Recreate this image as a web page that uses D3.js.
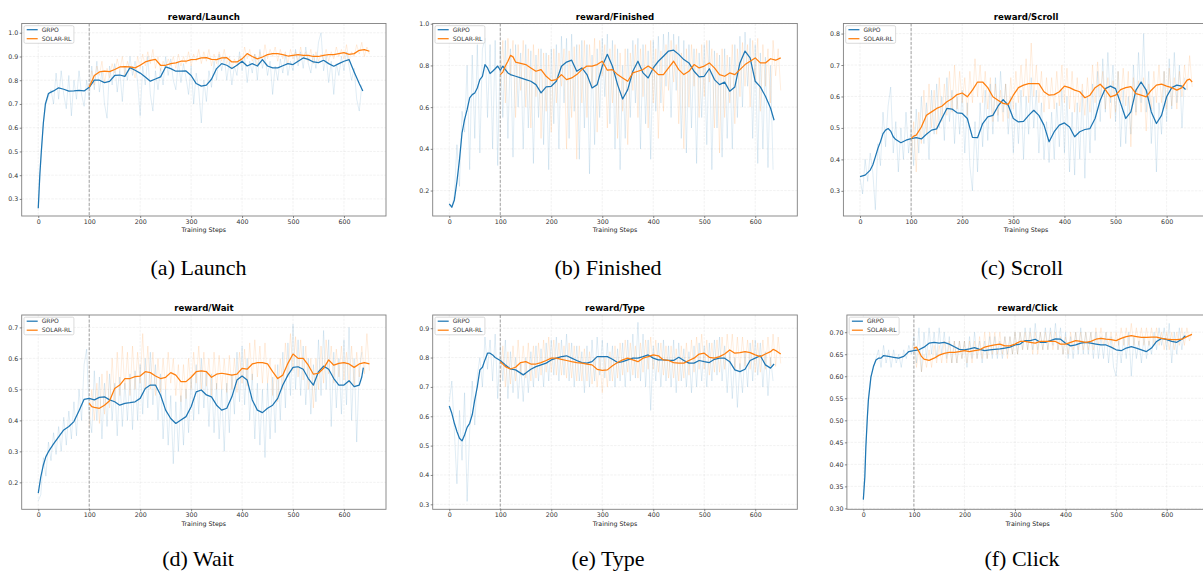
<!DOCTYPE html>
<html><head><meta charset="utf-8">
<script src="https://cdn.jsdelivr.net/npm/d3@7"></script>
<style>html,body{margin:0;padding:0;background:#fff;overflow:hidden}</style>
</head><body><svg id="c" width="1203" height="572"></svg>
<script>
// ---------------- DATA ----------------
const seriesNames = ["GRPO", "SOLAR-RL"];
const xTickValues = [0, 100, 200, 300, 400, 500, 600];
const rawStep = 5;          // raw curves are read every 5 training steps
const grpoRawStart = 0;
const solarRawStart = 100;
const switchStep = 100;

// Launch
const launchGrpoSmooth = [[0,0.261],[3,0.40],[6,0.50],[10,0.62],[14,0.70],[20,0.744],[25,0.75],[30,0.755],[40,0.768],[50,0.762],[60,0.754],[70,0.755],[80,0.757],[90,0.755],[100,0.77],[110,0.80],[120,0.80],[130,0.79],[140,0.795],[150,0.82],[160,0.822],[170,0.816],[180,0.853],[190,0.842],[200,0.83],[210,0.814],[220,0.796],[230,0.805],[240,0.814],[250,0.856],[260,0.849],[270,0.838],[280,0.838],[290,0.839],[300,0.82],[310,0.786],[320,0.775],[330,0.779],[340,0.804],[350,0.849],[360,0.87],[370,0.863],[380,0.849],[390,0.863],[400,0.88],[410,0.86],[420,0.87],[430,0.86],[440,0.887],[450,0.86],[460,0.852],[470,0.852],[480,0.861],[490,0.87],[500,0.866],[510,0.88],[520,0.894],[530,0.888],[540,0.877],[550,0.874],[560,0.884],[570,0.87],[580,0.859],[590,0.87],[600,0.88],[610,0.887],[620,0.835],[630,0.786],[637,0.755]];
const launchSolarSmooth = [[100,0.77],[110,0.82],[120,0.835],[130,0.838],[140,0.836],[150,0.845],[160,0.856],[170,0.857],[180,0.856],[190,0.852],[200,0.863],[210,0.877],[220,0.884],[230,0.888],[240,0.863],[250,0.863],[260,0.87],[270,0.873],[280,0.88],[290,0.88],[300,0.887],[310,0.888],[320,0.894],[330,0.895],[340,0.888],[350,0.887],[360,0.894],[370,0.895],[380,0.877],[390,0.877],[400,0.89],[410,0.912],[420,0.90],[430,0.89],[440,0.898],[450,0.908],[460,0.912],[470,0.912],[480,0.908],[490,0.902],[500,0.905],[510,0.908],[520,0.905],[530,0.905],[540,0.90],[550,0.90],[560,0.905],[570,0.908],[580,0.908],[590,0.912],[600,0.916],[610,0.909],[620,0.912],[630,0.926],[640,0.929],[650,0.922]];
const launchGrpoRaw = [0.26,0.45,0.62,0.70,0.73,0.76,0.70,0.83,0.72,0.84,0.74,0.68,0.82,0.65,0.80,0.72,0.84,0.74,0.69,0.80,0.72,0.86,0.76,0.88,0.75,0.84,0.70,0.64,0.86,0.78,0.87,0.75,0.84,0.71,0.86,0.80,0.90,0.82,0.88,0.79,0.65,0.86,0.78,0.90,0.74,0.67,0.84,0.76,0.85,0.78,0.90,0.82,0.89,0.80,0.76,0.88,0.79,0.87,0.81,0.74,0.86,0.70,0.83,0.76,0.62,0.80,0.71,0.84,0.77,0.88,0.80,0.91,0.84,0.90,0.80,0.88,0.78,0.86,0.82,0.92,0.84,0.90,0.79,0.88,0.83,0.91,0.80,0.93,0.85,0.90,0.82,0.88,0.74,0.86,0.80,0.89,0.83,0.91,0.82,0.88,0.84,0.93,0.86,0.92,0.85,0.94,0.87,0.83,0.91,0.85,0.96,1.00,0.84,0.90,0.79,0.88,0.74,0.87,0.82,0.90,0.84,0.92,0.86,0.80,0.85,0.72,0.67,0.78];
const launchSolarRaw = [0.76,0.84,0.78,0.86,0.82,0.88,0.79,0.85,0.81,0.87,0.83,0.89,0.84,0.90,0.82,0.88,0.84,0.86,0.81,0.90,0.85,0.91,0.86,0.92,0.87,0.93,0.85,0.90,0.84,0.88,0.85,0.89,0.86,0.90,0.85,0.91,0.86,0.90,0.87,0.92,0.86,0.91,0.88,0.93,0.87,0.92,0.88,0.93,0.86,0.91,0.87,0.92,0.88,0.93,0.87,0.90,0.85,0.89,0.86,0.90,0.87,0.94,0.89,0.93,0.88,0.91,0.86,0.92,0.88,0.95,0.89,0.93,0.90,0.94,0.88,0.93,0.89,0.92,0.87,0.93,0.89,0.92,0.88,0.94,0.89,0.92,0.88,0.93,0.87,0.92,0.88,0.91,0.89,0.93,0.88,0.92,0.89,0.94,0.90,0.93,0.89,0.95,0.88,0.92,0.90,0.95,0.91,0.96,0.90,0.94,0.91];
const launchYTicks = [0.3,0.4,0.5,0.6,0.7,0.8,0.9,1.0];

// Finished
const finishedGrpoSmooth = [[0,0.136],[5,0.12],[10,0.155],[15,0.243],[20,0.347],[25,0.476],[30,0.54],[35,0.588],[40,0.644],[45,0.66],[50,0.668],[55,0.692],[60,0.732],[65,0.748],[70,0.804],[75,0.788],[80,0.761],[85,0.772],[90,0.784],[95,0.797],[100,0.777],[105,0.797],[110,0.78],[115,0.764],[120,0.756],[130,0.748],[140,0.74],[150,0.732],[160,0.724],[170,0.708],[180,0.668],[190,0.697],[200,0.70],[210,0.724],[220,0.796],[230,0.816],[240,0.825],[250,0.772],[260,0.788],[270,0.756],[280,0.692],[290,0.708],[300,0.796],[310,0.853],[320,0.796],[330,0.708],[340,0.639],[350,0.684],[360,0.772],[370,0.82],[380,0.764],[390,0.74],[400,0.788],[410,0.82],[420,0.844],[430,0.869],[440,0.873],[450,0.853],[460,0.828],[470,0.812],[480,0.772],[490,0.745],[500,0.748],[510,0.784],[520,0.732],[530,0.708],[540,0.72],[550,0.676],[560,0.697],[570,0.812],[580,0.869],[590,0.836],[600,0.724],[610,0.697],[620,0.652],[630,0.596],[637,0.537]];
const finishedSolarSmooth = [[100,0.756],[105,0.768],[110,0.797],[115,0.82],[120,0.848],[125,0.841],[130,0.816],[140,0.81],[150,0.804],[160,0.788],[170,0.772],[180,0.78],[190,0.748],[200,0.727],[210,0.732],[220,0.756],[230,0.732],[240,0.74],[250,0.756],[260,0.78],[270,0.797],[280,0.797],[290,0.804],[300,0.82],[310,0.777],[320,0.78],[330,0.756],[340,0.74],[350,0.724],[360,0.764],[370,0.772],[380,0.78],[390,0.797],[400,0.78],[410,0.756],[420,0.756],[430,0.788],[440,0.82],[450,0.78],[460,0.756],[470,0.772],[480,0.804],[490,0.788],[500,0.797],[510,0.812],[520,0.788],[530,0.756],[540,0.748],[550,0.764],[560,0.756],[570,0.78],[580,0.804],[590,0.82],[600,0.836],[610,0.812],[620,0.812],[630,0.832],[640,0.825],[650,0.836]];
const finishedGrpoRaw = [0.13,0.12,0.18,0.42,0.22,0.58,0.48,0.80,0.30,0.85,0.45,0.90,0.38,0.88,0.93,0.55,0.90,0.40,0.92,0.32,0.88,0.55,0.92,0.45,0.88,0.36,0.90,0.60,0.86,0.40,0.90,0.50,0.87,0.33,0.85,0.55,0.88,0.42,0.86,0.30,0.88,0.52,0.90,0.40,0.94,0.62,0.93,0.45,0.95,0.58,0.90,0.35,0.92,0.50,0.90,0.28,0.85,0.42,0.88,0.55,0.93,0.65,0.95,0.52,0.92,0.40,0.88,0.30,0.80,0.45,0.88,0.55,0.92,0.62,0.93,0.40,0.90,0.52,0.87,0.35,0.92,0.58,0.94,0.62,0.95,0.70,0.96,0.55,0.95,0.68,0.94,0.45,0.92,0.38,0.90,0.50,0.88,0.33,0.86,0.55,0.90,0.42,0.92,0.30,0.87,0.50,0.85,0.36,0.88,0.45,0.84,0.40,0.90,0.55,0.94,0.60,0.96,0.70,0.93,0.45,0.90,0.33,0.86,0.40,0.84,0.31,0.80,0.30];
const finishedSolarRaw = [0.70,0.92,0.62,0.93,0.75,0.92,0.55,0.90,0.68,0.92,0.60,0.88,0.50,0.90,0.65,0.88,0.45,0.86,0.58,0.85,0.48,0.88,0.62,0.86,0.70,0.88,0.40,0.87,0.55,0.89,0.35,0.90,0.62,0.92,0.55,0.90,0.70,0.93,0.48,0.92,0.75,0.90,0.50,0.88,0.62,0.90,0.45,0.86,0.58,0.88,0.42,0.86,0.68,0.90,0.55,0.88,0.65,0.90,0.50,0.92,0.62,0.88,0.45,0.87,0.58,0.90,0.68,0.92,0.72,0.90,0.52,0.86,0.40,0.88,0.60,0.90,0.70,0.88,0.55,0.90,0.65,0.92,0.72,0.88,0.50,0.86,0.38,0.88,0.55,0.85,0.62,0.90,0.52,0.88,0.65,0.91,0.70,0.90,0.60,0.92,0.72,0.93,0.58,0.90,0.70,0.88,0.62,0.92,0.75,0.88,0.68];
const finishedYTicks = [0.2,0.4,0.6,0.8,1.0];

// Scroll
const scrollGrpoSmooth = [[0,0.345],[10,0.35],[20,0.366],[25,0.382],[30,0.408],[35,0.435],[40,0.456],[45,0.482],[50,0.493],[55,0.498],[60,0.49],[65,0.472],[70,0.463],[80,0.453],[90,0.461],[100,0.466],[110,0.469],[120,0.465],[130,0.48],[140,0.493],[150,0.497],[160,0.53],[170,0.562],[180,0.56],[190,0.548],[200,0.546],[210,0.53],[220,0.47],[230,0.469],[240,0.514],[250,0.535],[260,0.54],[270,0.569],[280,0.59],[290,0.572],[300,0.53],[310,0.519],[320,0.521],[330,0.54],[340,0.556],[350,0.54],[360,0.509],[370,0.456],[380,0.488],[390,0.509],[400,0.516],[410,0.503],[420,0.472],[430,0.488],[440,0.495],[450,0.498],[460,0.53],[470,0.588],[480,0.625],[490,0.633],[500,0.625],[510,0.578],[520,0.53],[530,0.551],[540,0.62],[550,0.646],[560,0.62],[570,0.551],[580,0.514],[590,0.54],[600,0.599],[610,0.628],[620,0.636],[630,0.633],[637,0.622]];
const scrollSolarSmooth = [[100,0.466],[105,0.474],[110,0.477],[120,0.503],[130,0.54],[140,0.551],[150,0.562],[160,0.569],[170,0.583],[180,0.593],[190,0.606],[200,0.611],[210,0.599],[220,0.62],[230,0.646],[240,0.646],[250,0.628],[260,0.599],[270,0.588],[280,0.578],[290,0.575],[300,0.604],[310,0.628],[320,0.636],[330,0.641],[340,0.641],[350,0.641],[360,0.615],[370,0.604],[380,0.606],[390,0.615],[400,0.633],[410,0.628],[420,0.62],[430,0.615],[440,0.596],[450,0.604],[460,0.628],[470,0.639],[480,0.622],[490,0.599],[500,0.604],[510,0.622],[520,0.628],[530,0.631],[540,0.609],[550,0.604],[560,0.599],[570,0.62],[580,0.636],[590,0.639],[600,0.633],[610,0.628],[620,0.62],[630,0.628],[640,0.652],[645,0.655],[650,0.646]];
const scrollGrpoRaw = [0.34,0.29,0.40,0.33,0.42,0.36,0.24,0.45,0.38,0.55,0.44,0.57,0.63,0.42,0.52,0.36,0.50,0.40,0.55,0.42,0.50,0.38,0.56,0.42,0.60,0.45,0.58,0.40,0.62,0.48,0.64,0.50,0.60,0.46,0.66,0.52,0.62,0.45,0.60,0.48,0.62,0.42,0.58,0.38,0.30,0.52,0.36,0.58,0.44,0.62,0.46,0.64,0.48,0.66,0.52,0.68,0.55,0.64,0.48,0.60,0.42,0.58,0.45,0.62,0.40,0.60,0.48,0.66,0.50,0.62,0.42,0.58,0.40,0.52,0.39,0.55,0.40,0.58,0.44,0.62,0.42,0.60,0.36,0.55,0.35,0.58,0.40,0.62,0.34,0.60,0.42,0.64,0.46,0.68,0.52,0.72,0.55,0.74,0.58,0.70,0.52,0.68,0.44,0.62,0.45,0.60,0.48,0.70,0.55,0.74,0.58,0.80,0.55,0.68,0.45,0.60,0.36,0.58,0.48,0.68,0.52,0.72,0.56,0.74,0.58,0.70,0.50,0.66];
const scrollSolarRaw = [0.40,0.52,0.36,0.55,0.45,0.62,0.48,0.64,0.50,0.62,0.48,0.66,0.52,0.64,0.54,0.68,0.55,0.70,0.56,0.68,0.58,0.66,0.54,0.68,0.58,0.72,0.60,0.70,0.58,0.68,0.56,0.66,0.52,0.64,0.54,0.62,0.52,0.64,0.53,0.66,0.56,0.68,0.58,0.70,0.60,0.72,0.58,0.77,0.60,0.70,0.58,0.68,0.55,0.66,0.56,0.66,0.56,0.68,0.57,0.70,0.58,0.69,0.56,0.68,0.55,0.66,0.55,0.64,0.54,0.66,0.55,0.70,0.58,0.71,0.60,0.68,0.56,0.66,0.53,0.65,0.55,0.68,0.58,0.69,0.57,0.68,0.44,0.66,0.54,0.65,0.55,0.66,0.49,0.64,0.56,0.68,0.58,0.70,0.58,0.68,0.56,0.69,0.57,0.66,0.56,0.68,0.60,0.70,0.62,0.73,0.63];
const scrollYTicks = [0.3,0.4,0.5,0.6,0.7,0.8];

// Wait
const waitGrpoSmooth = [[0,0.165],[5,0.218],[10,0.256],[15,0.283],[20,0.299],[30,0.324],[40,0.347],[50,0.369],[60,0.38],[70,0.396],[80,0.431],[90,0.468],[100,0.471],[110,0.466],[120,0.474],[130,0.476],[140,0.466],[150,0.46],[160,0.449],[170,0.455],[180,0.457],[190,0.46],[200,0.471],[210,0.503],[220,0.514],[230,0.514],[240,0.482],[250,0.433],[260,0.406],[270,0.39],[280,0.401],[290,0.412],[300,0.444],[310,0.492],[320,0.498],[330,0.482],[340,0.476],[350,0.449],[360,0.433],[370,0.439],[380,0.476],[390,0.53],[400,0.543],[410,0.53],[420,0.466],[430,0.433],[440,0.425],[450,0.439],[460,0.449],[470,0.471],[480,0.514],[490,0.546],[500,0.571],[510,0.573],[520,0.565],[530,0.535],[540,0.514],[550,0.557],[560,0.575],[570,0.565],[580,0.535],[590,0.514],[600,0.514],[610,0.528],[620,0.509],[630,0.514],[635,0.54],[638,0.57]];
const waitSolarSmooth = [[100,0.455],[105,0.444],[110,0.442],[120,0.439],[130,0.449],[140,0.463],[150,0.503],[160,0.514],[170,0.535],[180,0.535],[190,0.541],[200,0.543],[210,0.557],[220,0.554],[230,0.543],[240,0.535],[250,0.539],[260,0.554],[270,0.546],[280,0.525],[290,0.525],[300,0.539],[310,0.557],[320,0.56],[330,0.557],[340,0.539],[350,0.549],[360,0.552],[370,0.549],[380,0.546],[390,0.549],[400,0.568],[410,0.565],[420,0.582],[430,0.586],[440,0.586],[450,0.582],[460,0.557],[470,0.535],[480,0.546],[490,0.584],[500,0.614],[510,0.60],[520,0.60],[530,0.578],[540,0.549],[550,0.552],[560,0.568],[570,0.595],[580,0.578],[590,0.584],[600,0.586],[610,0.582],[620,0.571],[630,0.582],[640,0.586],[650,0.582]];
const waitGrpoRaw = [0.14,0.16,0.28,0.22,0.33,0.27,0.36,0.29,0.38,0.30,0.41,0.32,0.43,0.34,0.46,0.35,0.50,0.40,0.58,0.63,0.42,0.36,0.56,0.40,0.54,0.34,0.52,0.38,0.55,0.40,0.52,0.35,0.54,0.38,0.52,0.40,0.55,0.37,0.56,0.40,0.58,0.42,0.60,0.44,0.62,0.45,0.58,0.40,0.55,0.34,0.50,0.32,0.48,0.26,0.46,0.30,0.48,0.32,0.50,0.36,0.54,0.40,0.58,0.42,0.60,0.44,0.56,0.38,0.55,0.36,0.52,0.34,0.50,0.30,0.52,0.36,0.55,0.42,0.62,0.46,0.64,0.45,0.60,0.40,0.55,0.34,0.52,0.32,0.50,0.28,0.52,0.34,0.54,0.36,0.58,0.40,0.62,0.44,0.65,0.48,0.71,0.50,0.66,0.48,0.64,0.45,0.60,0.42,0.58,0.46,0.66,0.48,0.69,0.50,0.66,0.38,0.62,0.44,0.60,0.42,0.66,0.45,0.70,0.40,0.60,0.33,0.56,0.62];
const waitSolarRaw = [0.38,0.50,0.40,0.52,0.39,0.55,0.42,0.56,0.44,0.60,0.46,0.62,0.48,0.64,0.50,0.62,0.48,0.64,0.50,0.62,0.52,0.68,0.50,0.64,0.50,0.62,0.48,0.60,0.49,0.60,0.50,0.62,0.52,0.60,0.48,0.58,0.46,0.58,0.47,0.60,0.50,0.62,0.52,0.64,0.50,0.62,0.51,0.60,0.48,0.62,0.50,0.61,0.50,0.60,0.49,0.61,0.50,0.60,0.49,0.62,0.52,0.63,0.51,0.65,0.53,0.66,0.54,0.64,0.52,0.65,0.52,0.60,0.48,0.58,0.46,0.60,0.50,0.65,0.54,0.68,0.56,0.67,0.54,0.66,0.53,0.64,0.50,0.60,0.44,0.60,0.50,0.64,0.52,0.66,0.55,0.64,0.52,0.63,0.54,0.64,0.53,0.62,0.52,0.64,0.51,0.62,0.54,0.64,0.55,0.68,0.56];
const waitYTicks = [0.2,0.3,0.4,0.5,0.6,0.7];

// Type
const typeGrpoSmooth = [[0,0.635],[5,0.61],[10,0.576],[15,0.548],[20,0.525],[25,0.516],[30,0.536],[35,0.562],[40,0.576],[45,0.605],[50,0.656],[55,0.701],[60,0.758],[65,0.767],[70,0.792],[75,0.815],[80,0.815],[85,0.809],[90,0.80],[100,0.79],[110,0.775],[120,0.761],[130,0.758],[140,0.747],[145,0.741],[150,0.747],[160,0.76],[170,0.769],[180,0.775],[190,0.781],[200,0.792],[210,0.798],[220,0.803],[230,0.806],[240,0.798],[250,0.79],[260,0.783],[270,0.781],[280,0.786],[290,0.803],[300,0.803],[310,0.803],[320,0.794],[330,0.783],[340,0.786],[350,0.792],[360,0.798],[370,0.798],[380,0.803],[390,0.809],[400,0.798],[410,0.792],[420,0.792],[430,0.79],[440,0.79],[450,0.801],[460,0.79],[470,0.781],[480,0.781],[490,0.79],[500,0.786],[510,0.783],[520,0.794],[530,0.798],[540,0.798],[550,0.786],[560,0.758],[570,0.752],[580,0.76],[590,0.79],[600,0.798],[610,0.806],[620,0.775],[630,0.764],[637,0.778]];
const typeSolarSmooth = [[100,0.786],[110,0.769],[120,0.761],[130,0.767],[140,0.783],[150,0.786],[160,0.778],[170,0.778],[180,0.783],[190,0.79],[200,0.798],[210,0.798],[220,0.794],[230,0.79],[240,0.786],[250,0.783],[260,0.781],[270,0.778],[280,0.775],[290,0.76],[300,0.756],[310,0.758],[320,0.772],[330,0.783],[340,0.792],[350,0.798],[360,0.792],[370,0.786],[380,0.798],[390,0.803],[400,0.809],[410,0.806],[420,0.792],[430,0.79],[440,0.783],[450,0.781],[460,0.781],[470,0.79],[480,0.798],[490,0.812],[500,0.815],[510,0.801],[520,0.798],[530,0.803],[540,0.812],[550,0.826],[560,0.815],[570,0.817],[580,0.82],[590,0.817],[600,0.809],[610,0.803],[620,0.812],[630,0.82],[635,0.828],[640,0.824],[650,0.812]];
const typeGrpoRaw = [0.65,0.72,0.55,0.37,0.62,0.45,0.68,0.31,0.55,0.72,0.57,0.74,0.80,0.70,0.87,0.76,0.86,0.72,0.88,0.66,0.84,0.72,0.86,0.66,0.82,0.68,0.80,0.66,0.78,0.65,0.80,0.68,0.82,0.70,0.84,0.72,0.83,0.70,0.85,0.72,0.86,0.74,0.87,0.72,0.86,0.74,0.88,0.72,0.85,0.70,0.84,0.72,0.82,0.68,0.84,0.70,0.86,0.72,0.87,0.74,0.86,0.73,0.85,0.72,0.84,0.70,0.83,0.72,0.85,0.70,0.86,0.72,0.88,0.73,0.92,0.72,0.88,0.70,0.86,0.62,0.84,0.72,0.85,0.70,0.86,0.72,0.84,0.70,0.86,0.68,0.85,0.72,0.83,0.70,0.82,0.68,0.84,0.70,0.85,0.72,0.84,0.70,0.85,0.72,0.86,0.74,0.87,0.72,0.84,0.68,0.82,0.66,0.80,0.63,0.78,0.68,0.82,0.70,0.85,0.72,0.86,0.74,0.85,0.70,0.82,0.67,0.80,0.72];
const typeSolarRaw = [0.72,0.84,0.70,0.82,0.71,0.84,0.72,0.86,0.74,0.84,0.73,0.85,0.72,0.84,0.73,0.85,0.74,0.86,0.75,0.87,0.75,0.86,0.74,0.85,0.74,0.84,0.73,0.85,0.73,0.84,0.72,0.84,0.72,0.83,0.72,0.82,0.71,0.80,0.70,0.80,0.68,0.80,0.70,0.82,0.72,0.84,0.73,0.85,0.74,0.86,0.75,0.85,0.74,0.84,0.73,0.85,0.75,0.86,0.76,0.87,0.76,0.86,0.75,0.85,0.74,0.84,0.73,0.84,0.73,0.83,0.72,0.84,0.73,0.85,0.74,0.86,0.75,0.87,0.76,0.88,0.76,0.86,0.74,0.85,0.75,0.86,0.75,0.87,0.76,0.88,0.78,0.88,0.76,0.87,0.76,0.87,0.77,0.86,0.76,0.86,0.75,0.85,0.75,0.86,0.76,0.87,0.77,0.88,0.77,0.87,0.78];
const typeYTicks = [0.3,0.4,0.5,0.6,0.7,0.8,0.9];

// Click
const clickGrpoSmooth = [[0,0.32],[3,0.372],[5,0.44],[8,0.508],[10,0.546],[13,0.577],[15,0.598],[20,0.622],[25,0.637],[30,0.641],[35,0.641],[40,0.647],[50,0.645],[60,0.643],[70,0.641],[80,0.645],[90,0.656],[100,0.658],[110,0.66],[120,0.666],[130,0.675],[140,0.677],[150,0.675],[160,0.677],[170,0.673],[180,0.667],[190,0.661],[200,0.66],[210,0.662],[220,0.665],[230,0.661],[240,0.658],[250,0.66],[260,0.661],[270,0.662],[280,0.664],[290,0.666],[300,0.671],[310,0.673],[320,0.681],[330,0.681],[340,0.684],[350,0.677],[360,0.677],[370,0.681],[380,0.685],[390,0.684],[400,0.675],[410,0.669],[420,0.671],[430,0.675],[440,0.677],[450,0.675],[460,0.673],[470,0.671],[480,0.671],[490,0.666],[500,0.66],[510,0.658],[520,0.664],[530,0.667],[540,0.664],[550,0.66],[560,0.656],[570,0.664],[580,0.679],[590,0.686],[600,0.683],[610,0.679],[620,0.677],[630,0.684],[637,0.692]];
const clickSolarSmooth = [[100,0.664],[105,0.666],[110,0.656],[115,0.645],[120,0.639],[130,0.636],[140,0.641],[150,0.648],[160,0.652],[170,0.654],[180,0.654],[190,0.656],[200,0.658],[210,0.656],[220,0.658],[230,0.66],[240,0.666],[250,0.669],[260,0.671],[270,0.673],[280,0.669],[290,0.669],[300,0.673],[310,0.679],[320,0.679],[330,0.677],[340,0.675],[350,0.679],[360,0.679],[370,0.679],[380,0.679],[390,0.673],[400,0.673],[410,0.677],[420,0.681],[430,0.679],[440,0.677],[450,0.679],[460,0.684],[470,0.686],[480,0.684],[490,0.683],[500,0.681],[510,0.686],[520,0.69],[530,0.692],[540,0.69],[550,0.688],[560,0.688],[570,0.689],[580,0.689],[590,0.686],[600,0.684],[610,0.683],[620,0.683],[630,0.684],[640,0.69],[650,0.695]];
const clickGrpoRaw = [0.32,0.44,0.55,0.60,0.62,0.64,0.66,0.62,0.67,0.63,0.66,0.62,0.66,0.63,0.65,0.62,0.66,0.64,0.67,0.65,0.69,0.63,0.71,0.61,0.70,0.64,0.71,0.65,0.70,0.64,0.71,0.65,0.70,0.64,0.69,0.63,0.68,0.63,0.68,0.64,0.68,0.62,0.69,0.64,0.70,0.64,0.68,0.63,0.68,0.64,0.69,0.64,0.69,0.64,0.68,0.64,0.69,0.65,0.69,0.65,0.70,0.65,0.70,0.66,0.71,0.66,0.71,0.66,0.72,0.66,0.70,0.66,0.71,0.66,0.71,0.67,0.72,0.66,0.71,0.65,0.70,0.64,0.69,0.64,0.70,0.65,0.71,0.65,0.70,0.65,0.70,0.64,0.70,0.64,0.69,0.64,0.70,0.63,0.69,0.62,0.60,0.68,0.63,0.69,0.64,0.70,0.60,0.69,0.64,0.68,0.63,0.69,0.64,0.68,0.65,0.70,0.66,0.71,0.67,0.71,0.66,0.72,0.63,0.70,0.65,0.71,0.66,0.70];
const clickSolarRaw = [0.67,0.62,0.66,0.61,0.65,0.62,0.66,0.62,0.67,0.63,0.67,0.63,0.68,0.63,0.68,0.63,0.68,0.63,0.68,0.64,0.68,0.63,0.68,0.63,0.68,0.64,0.69,0.64,0.70,0.64,0.70,0.65,0.70,0.65,0.70,0.65,0.69,0.64,0.69,0.65,0.70,0.65,0.70,0.66,0.70,0.66,0.70,0.65,0.70,0.65,0.70,0.66,0.70,0.66,0.70,0.66,0.70,0.66,0.69,0.65,0.69,0.65,0.70,0.66,0.70,0.66,0.70,0.66,0.70,0.66,0.70,0.66,0.71,0.67,0.71,0.67,0.70,0.67,0.70,0.66,0.70,0.67,0.71,0.67,0.71,0.67,0.72,0.67,0.71,0.67,0.71,0.67,0.71,0.67,0.71,0.67,0.71,0.67,0.70,0.66,0.70,0.66,0.70,0.66,0.70,0.67,0.71,0.67,0.71,0.68,0.70];
const clickYTicks = [0.30,0.35,0.40,0.45,0.50,0.55,0.60,0.65,0.70];

// ---------------- CHART ----------------
const colors = {grpo: "#1f77b4", solar: "#ff7f0e"};
const xDomain = [-32.5, 682.5];

const panels = [
  {title:"reward/Launch",   caption:"(a) Launch",   grpo:launchGrpoSmooth,   solar:launchSolarSmooth,   grpoRaw:launchGrpoRaw,   solarRaw:launchSolarRaw,   yDomain:[0.228,1.039], yTicks:launchYTicks,   fmt:".1f",
   box:{left:21.7, right:386.0, top:23.5, bottom:216}, cap:{x:198.5, y:275}},
  {title:"reward/Finished", caption:"(b) Finished", grpo:finishedGrpoSmooth, solar:finishedSolarSmooth, grpoRaw:finishedGrpoRaw, solarRaw:finishedSolarRaw, yDomain:[0.078,1.001], yTicks:finishedYTicks, fmt:".1f",
   box:{left:432.7, right:797.3, top:23.5, bottom:216}, cap:{x:608, y:275}},
  {title:"reward/Scroll",   caption:"(c) Scroll",   grpo:scrollGrpoSmooth,   solar:scrollSolarSmooth,   grpoRaw:scrollGrpoRaw,   solarRaw:scrollSolarRaw,   yDomain:[0.22,0.832],  yTicks:scrollYTicks,   fmt:".1f",
   box:{left:843.4, right:1208.8, top:23.5, bottom:216}, cap:{x:1022, y:275}},
  {title:"reward/Wait",     caption:"(d) Wait",     grpo:waitGrpoSmooth,     solar:waitSolarSmooth,     grpoRaw:waitGrpoRaw,     solarRaw:waitSolarRaw,     yDomain:[0.113,0.74],  yTicks:waitYTicks,     fmt:".1f",
   box:{left:21.7, right:386.0, top:315, bottom:509.3}, cap:{x:198, y:566}},
  {title:"reward/Type",     caption:"(e) Type",     grpo:typeGrpoSmooth,     solar:typeSolarSmooth,     grpoRaw:typeGrpoRaw,     solarRaw:typeSolarRaw,     yDomain:[0.283,0.945], yTicks:typeYTicks,     fmt:".1f",
   box:{left:432.7, right:797.3, top:315, bottom:509.3}, cap:{x:608, y:566}},
  {title:"reward/Click",    caption:"(f) Click",    grpo:clickGrpoSmooth,    solar:clickSolarSmooth,    grpoRaw:clickGrpoRaw,    solarRaw:clickSolarRaw,    yDomain:[0.298,0.739], yTicks:clickYTicks,    fmt:".2f",
   box:{left:846.9, right:1208.4, top:315, bottom:509.3}, cap:{x:1022, y:566}}
];

const svg = d3.select("#c");
svg.append("rect").attr("width",1203).attr("height",572).attr("fill","#fff");
const defs = svg.append("defs");

panels.forEach((p, i) => {
  const b = p.box;
  const x = d3.scaleLinear().domain(xDomain).range([b.left, b.right]);
  const y = d3.scaleLinear().domain(p.yDomain).range([b.bottom, b.top]);
  const g = svg.append("g");

  defs.append("clipPath").attr("id", "clip" + i)
    .append("rect").attr("x", b.left).attr("y", b.top)
    .attr("width", b.right - b.left).attr("height", b.bottom - b.top);
  const plot = g.append("g").attr("clip-path", `url(#clip${i})`);

  // grid
  plot.selectAll(".gx").data(xTickValues).join("line")
    .attr("x1", d => x(d)).attr("x2", d => x(d)).attr("y1", b.top).attr("y2", b.bottom)
    .attr("stroke", "#cfcfcf").attr("stroke-opacity", 0.45).attr("stroke-width", 0.6).attr("stroke-dasharray", "2.5,1.2");
  plot.selectAll(".gy").data(p.yTicks).join("line")
    .attr("y1", d => y(d)).attr("y2", d => y(d)).attr("x1", b.left).attr("x2", b.right)
    .attr("stroke", "#cfcfcf").attr("stroke-opacity", 0.45).attr("stroke-width", 0.6).attr("stroke-dasharray", "2.5,1.2");

  const line = d3.line().x(d => x(d[0])).y(d => y(d[1]));
  const grpoRawPts = p.grpoRaw.map((v, k) => [grpoRawStart + k * rawStep, v]);
  const solarRawPts = p.solarRaw.map((v, k) => [solarRawStart + k * rawStep, v]);

  plot.append("path").attr("d", line(grpoRawPts)).attr("fill", "none")
    .attr("stroke", colors.grpo).attr("stroke-opacity", 0.17).attr("stroke-width", 0.8);
  plot.append("path").attr("d", line(solarRawPts)).attr("fill", "none")
    .attr("stroke", colors.solar).attr("stroke-opacity", 0.17).attr("stroke-width", 0.8);

  // switch line at step 100
  plot.append("line").attr("x1", x(switchStep)).attr("x2", x(switchStep))
    .attr("y1", b.top).attr("y2", b.bottom)
    .attr("stroke", "#a0a0a0").attr("stroke-width", 1).attr("stroke-dasharray", "3,1.6");

  plot.append("path").attr("d", line(p.grpo)).attr("fill", "none")
    .attr("stroke", colors.grpo).attr("stroke-width", 1.25).attr("stroke-linejoin", "round");
  plot.append("path").attr("d", line(p.solar)).attr("fill", "none")
    .attr("stroke", colors.solar).attr("stroke-width", 1.25).attr("stroke-linejoin", "round");

  // frame
  g.append("rect").attr("x", b.left).attr("y", b.top)
    .attr("width", b.right - b.left).attr("height", b.bottom - b.top)
    .attr("fill", "none").attr("stroke", "#808080").attr("stroke-width", 0.9);

  // axes
  const xa = g.append("g").attr("transform", `translate(0,${b.bottom})`)
    .call(d3.axisBottom(x).tickValues(xTickValues).tickFormat(d3.format("d")).tickSize(2).tickPadding(1.5));
  const ya = g.append("g").attr("transform", `translate(${b.left},0)`)
    .call(d3.axisLeft(y).tickValues(p.yTicks).tickFormat(d3.format(p.fmt)).tickSize(2).tickPadding(1.4));
  [xa, ya].forEach(a => {
    a.select(".domain").remove();
    a.selectAll(".tick line").attr("stroke", "#555").attr("stroke-width", 0.7);
    a.selectAll(".tick text").attr("fill", "#333").style("font-family", "DejaVu Sans").style("font-size", "6.3px");
  });

  // title & axis label
  g.append("text").attr("x", (b.left + Math.min(b.right, 1203 + (b.right - 1203))) / 2).attr("y", b.top - 3.6)
    .attr("text-anchor", "middle").style("font-family", "DejaVu Sans").style("font-weight", "bold")
    .style("font-size", "8.6px").attr("fill", "#000").text(p.title);
  g.append("text").attr("x", (b.left + b.right) / 2).attr("y", b.bottom + 16.2)
    .attr("text-anchor", "middle").style("font-family", "DejaVu Sans").style("font-size", "6.3px")
    .attr("fill", "#222").text("Training Steps");

  // legend
  const lg = g.append("g").attr("transform", `translate(${b.left + 2.3},${b.top + 2.2})`);
  const lbox = lg.append("rect").attr("rx", 1.5).attr("ry", 1.5)
    .attr("fill", "#fff").attr("fill-opacity", 0.85).attr("stroke", "#cccccc").attr("stroke-width", 0.7);
  let maxW = 0;
  seriesNames.forEach((name, k) => {
    const yy = 4 + k * 9;
    lg.append("line").attr("x1", 2.7).attr("x2", 13.7).attr("y1", yy).attr("y2", yy)
      .attr("stroke", k === 0 ? colors.grpo : colors.solar).attr("stroke-width", 1.25);
    const t = lg.append("text").attr("x", 17.7).attr("y", yy).attr("dy", "0.35em")
      .style("font-family", "DejaVu Sans").style("font-size", "6px").attr("fill", "#333").text(name);
    maxW = Math.max(maxW, t.node().getComputedTextLength());
  });
  lbox.attr("width", 17.7 + maxW + 2.5).attr("height", 17.6);

  // caption
  svg.append("text").attr("x", p.cap.x).attr("y", p.cap.y).attr("text-anchor", "middle")
    .style("font-family", "Liberation Serif").style("font-size", "22px").attr("fill", "#000").text(p.caption);
});
</script>
</body></html>
